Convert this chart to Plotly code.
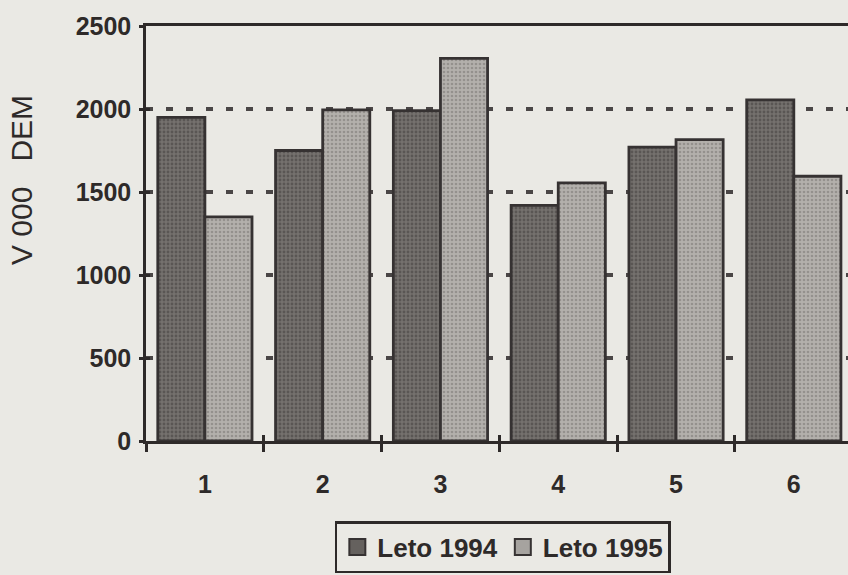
import plotly.graph_objects as go

categories = [1, 2, 3, 4, 5, 6]
tick_labels = ["1", "2", "3", "4", "5", "6"]
leto_1994 = [1950, 1750, 1990, 1420, 1770, 2055]
leto_1995 = [1350, 1995, 2305, 1555, 1815, 1595]
series_names = ["Leto 1994", "Leto 1995"]
y_ticks = [0, 500, 1000, 1500, 2000, 2500]
boundaries = [0.5, 1.5, 2.5, 3.5, 4.5, 5.5, 6.5]
y_title = "V 000&nbsp;&nbsp; DEM"

BG = "#eae9e4"
INK = "#2e2a29"
FONT = "Liberation Sans, Arial, sans-serif"

fills = [
    dict(color="#75716e", pattern=dict(shape=".", fgcolor="#3f3b39", bgcolor="#75716e", size=4, solidity=0.4)),
    dict(color="#b3b0ac", pattern=dict(shape=".", fgcolor="#75716e", bgcolor="#b3b0ac", size=4, solidity=0.35)),
]
legend_colors = ["#65615e", "#a6a39f"]

fig = go.Figure()
for name, vals, f in zip(series_names, [leto_1994, leto_1995], fills):
    fig.add_trace(go.Bar(
        x=categories, y=vals, name=name, showlegend=False,
        marker=dict(color=f["color"], pattern=f["pattern"],
                    line=dict(color="#363232", width=2.8)),
    ))
for name, c in zip(series_names, legend_colors):
    fig.add_trace(go.Scatter(
        x=[None], y=[None], mode="markers", name=name,
        marker=dict(symbol="square", size=16, color=c, line=dict(color="#363232", width=2)),
    ))
fig.add_trace(go.Scatter(x=[None], y=[None], xaxis="x2", yaxis="y2", showlegend=False, hoverinfo="skip"))

x_range = [0.5, 6.46]
y_range = [0, 2500]

fig.update_layout(
    width=848, height=575,
    paper_bgcolor=BG, plot_bgcolor=BG,
    margin=dict(l=146, r=0, t=26, b=134),
    barmode="group", bargap=0.2, bargroupgap=0,
    font=dict(family=FONT, color=INK, size=25),
    xaxis=dict(
        range=x_range, tickmode="array", tickvals=categories, ticktext=tick_labels,
        ticks="", showgrid=False, zeroline=False,
        showline=True, linecolor="#2e2a29", linewidth=2.5, mirror=True,
        tickfont=dict(size=25, family=FONT, color=INK, weight="bold"), ticklabelstandoff=19,
        minor=dict(tickmode="array", tickvals=boundaries, ticks="outside", ticklen=8,
                   tickwidth=2.5, tickcolor="#2e2a29", showgrid=False),
    ),
    yaxis=dict(
        range=y_range, tickmode="array", tickvals=y_ticks,
        ticks="outside", ticklen=4, tickwidth=2.5, tickcolor="#2e2a29",
        showline=True, linecolor="#2e2a29", linewidth=2.5, zeroline=False,
        showgrid=True, gridcolor="#4a4646", gridwidth=3.5, griddash="7px,13px",
        tickfont=dict(size=25, family=FONT, color=INK, weight="bold"), ticklabelstandoff=3,
    ),
    xaxis2=dict(
        overlaying="x", matches="x", range=x_range, tickmode="array", tickvals=boundaries,
        ticks="inside", ticklen=6, tickwidth=2.5, tickcolor="#2e2a29",
        showticklabels=False, showgrid=False, zeroline=False, showline=False,
    ),
    yaxis2=dict(
        overlaying="y", matches="y", range=y_range, tickmode="array", tickvals=y_ticks,
        ticks="inside", ticklen=4, tickwidth=2.5, tickcolor="#2e2a29",
        showticklabels=False, showgrid=False, zeroline=False, showline=False,
    ),
    annotations=[dict(
        text=y_title, xref="paper", yref="paper", x=-0.1766, y=0.629,
        xanchor="center", yanchor="middle", textangle=-90, showarrow=False,
        font=dict(size=30, family=FONT, color=INK),
    )],
    legend=dict(
        orientation="h", x=0.269, y=-0.193, xanchor="left", yanchor="top",
        bgcolor=BG, bordercolor="#2e2a29", borderwidth=2.5,
        font=dict(size=26, family=FONT, color=INK, weight="bold"), itemsizing="trace",
    ),
)

fig.write_html("out.html", config={"displayModeBar": False},
               post_script="document.body.style.margin='0';document.body.style.padding='0';")
